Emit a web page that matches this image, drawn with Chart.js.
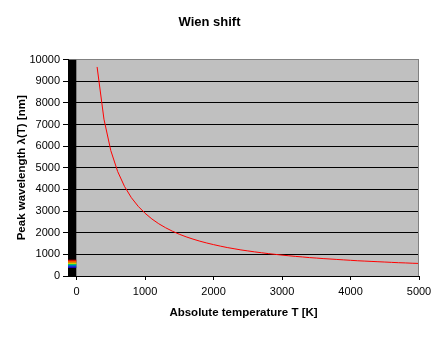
<!DOCTYPE html>
<html lang="en">
<head>
  <meta charset="UTF-8" />
  <title>Wien shift</title>
  <script src="https://cdn.jsdelivr.net/npm/chart.js"></script>
  <style>
    body { margin: 0; background: #fff; }
  </style>
</head>
<body>

<canvas id="graficoWien" width="446" height="338"></canvas>

<script>
  // temperature [K] and peak wavelength [nm]
  const temperatures = [300, 400, 500, 600, 700, 800, 900, 1000, 1100, 1200, 1300, 1400, 1500, 1600, 1700, 1800, 1900, 2000,
    2100, 2200, 2300, 2400, 2500, 2600, 2700, 2800, 2900, 3000, 3100, 3200, 3300, 3400, 3500, 3600, 3700, 3800, 3900, 4000,
    4100, 4200, 4300, 4400, 4500, 4600, 4700, 4800, 4900, 5000];
  const peakWavelengths = [9660, 7245, 5795, 4830, 4140, 3620, 3220, 2900, 2635, 2415, 2230, 2070, 1930, 1810, 1705, 1610, 1525, 1450,
    1380, 1315, 1260, 1205, 1160, 1115, 1075, 1035, 1000, 965, 935, 905, 880, 850, 830, 805, 785, 765, 745, 725,
    705, 690, 675, 660, 645, 630, 615, 605, 590, 580];

  const xTicks = [0, 1000, 2000, 3000, 4000, 5000];
  const yTicks = [0, 1000, 2000, 3000, 4000, 5000, 6000, 7000, 8000, 9000, 10000];

  // dark strip left of T = 0 with the visible spectrum in it
  const stripFrom = -125;
  const stripTo = 0;
  const spectrumLow = [380, 430, 480, 520, 560, 590, 640, 700];
  const spectrumHigh = [430, 480, 520, 560, 590, 640, 700, 750];
  const spectrumColors = ['#3000ff', '#0070ff', '#00e0ff', '#00ff40', '#ffff00', '#ffb000', '#ff5000', '#ff0000'];

  const fonte = 'Arial, "Liberation Sans", sans-serif';

  const datasets = [];

  datasets.push({
    label: 'Wien',
    data: temperatures.map((t, i) => ({ x: t, y: peakWavelengths[i] })),
    borderColor: '#ff0000',
    borderWidth: 1,
    pointRadius: 0,
    fill: false,
    order: 0
  });

  spectrumLow.forEach((low, i) => {
    datasets.push({
      label: 'spectrum' + i,
      data: [{ x: stripFrom, y: spectrumHigh[i] }, { x: stripTo, y: spectrumHigh[i] }],
      borderWidth: 0,
      borderColor: 'rgba(0,0,0,0)',
      backgroundColor: spectrumColors[i],
      pointRadius: 0,
      fill: { value: low },
      order: 1
    });
  });

  datasets.push({
    label: 'strip',
    data: [{ x: stripFrom, y: yTicks[yTicks.length - 1] }, { x: stripTo, y: yTicks[yTicks.length - 1] }],
    borderWidth: 0,
    borderColor: 'rgba(0,0,0,0)',
    backgroundColor: '#000000',
    pointRadius: 0,
    fill: 'origin',
    order: 2
  });

  const fundoPlot = {
    id: 'fundoPlot',
    beforeDraw(chart) {
      const a = chart.chartArea;
      const ctx = chart.ctx;
      ctx.save();
      ctx.fillStyle = '#c0c0c0';
      ctx.fillRect(a.left, a.top, a.right - a.left, a.bottom - a.top);
      ctx.restore();
    },
    afterDatasetsDraw(chart) {
      const a = chart.chartArea;
      const ctx = chart.ctx;
      ctx.save();
      ctx.strokeStyle = '#808080';
      ctx.lineWidth = 1;
      ctx.beginPath();
      ctx.moveTo(Math.round(a.right) - 0.5, a.top);
      ctx.lineTo(Math.round(a.right) - 0.5, a.bottom);
      ctx.stroke();
      ctx.restore();
    }
  };

  new Chart(document.getElementById('graficoWien'), {
    type: 'line',
    data: { datasets: datasets },
    plugins: [fundoPlot],
    options: {
      responsive: false,
      animation: false,
      layout: { padding: { left: 0, right: 27, top: 0, bottom: 0 } },
      plugins: {
        legend: { display: false },
        tooltip: { enabled: false },
        title: {
          display: true,
          text: 'Wien shift',
          color: '#000',
          font: { family: fonte, size: 13, weight: 'bold' },
          padding: { top: 15, bottom: 29 }
        }
      },
      scales: {
        x: {
          type: 'linear',
          min: stripFrom,
          max: xTicks[xTicks.length - 1],
          afterBuildTicks: axis => { axis.ticks = xTicks.map(v => ({ value: v })); },
          afterFit: axis => { axis.height = 62; },
          grid: { drawOnChartArea: false, drawTicks: true, tickLength: 4, color: '#000', tickColor: '#000' },
          border: { display: true, color: '#000', width: 1 },
          ticks: {
            color: '#000',
            padding: 5,
            maxRotation: 0,
            font: { family: fonte, size: 11 },
            callback: v => String(v)
          },
          title: {
            display: true,
            text: 'Absolute temperature T [K]',
            color: '#000',
            font: { family: fonte, size: 11.5, weight: 'bold' },
            padding: { top: 0, bottom: 18 }
          }
        },
        y: {
          min: yTicks[0],
          max: yTicks[yTicks.length - 1],
          afterBuildTicks: axis => { axis.ticks = yTicks.map(v => ({ value: v })); },
          afterFit: axis => { axis.width = 68; },
          grid: {
            color: c => (c.tick && c.tick.value === 10000) ? '#808080' : '#000',
            tickColor: '#000',
            tickLength: 5,
            lineWidth: 1
          },
          border: { display: true, color: '#000', width: 1 },
          ticks: {
            color: '#000',
            padding: 3,
            font: { family: fonte, size: 11 },
            callback: v => String(v)
          },
          title: {
            display: true,
            text: 'Peak wavelength \u03bb(T) [nm]',
            color: '#000',
            font: { family: fonte, size: 11.5, weight: 'bold' },
            padding: { top: 15, bottom: 0 }
          }
        }
      }
    }
  });
</script>

</body>
</html>
